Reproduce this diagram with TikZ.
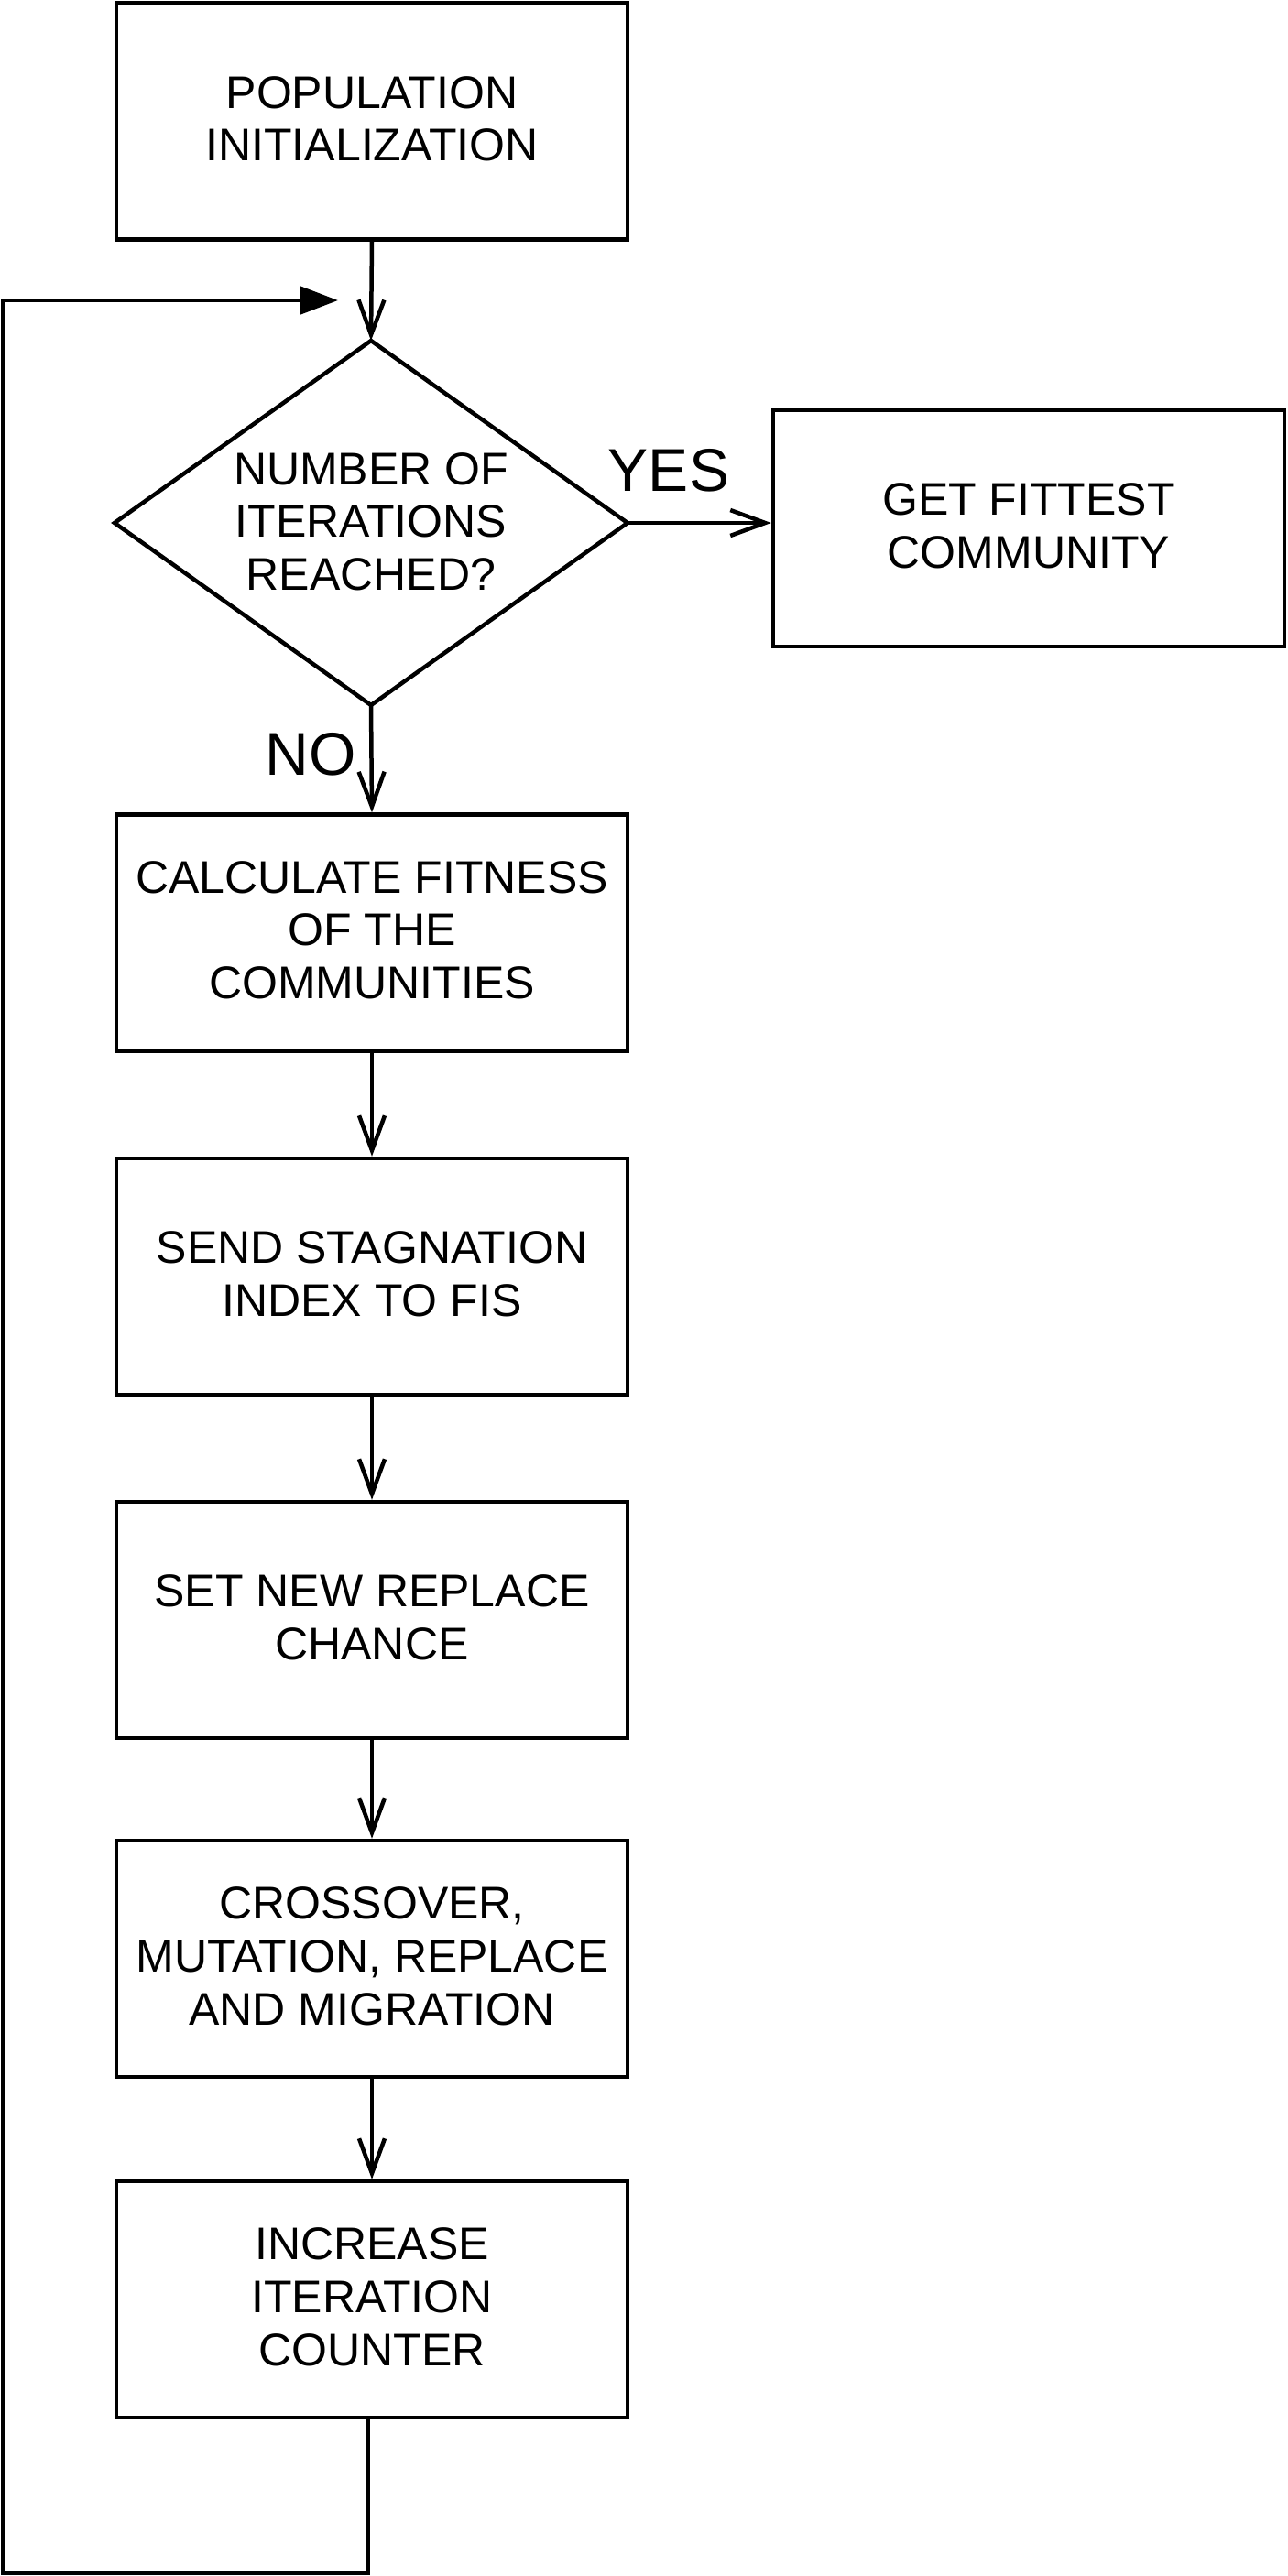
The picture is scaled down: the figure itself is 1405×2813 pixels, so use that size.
\documentclass[tikz,border=0pt]{standalone}
\usepackage{fontspec}
\setmainfont{Liberation Sans}
\usetikzlibrary{arrows.meta}
\begin{document}
\begin{tikzpicture}[x=0.5pt,y=-0.5pt,
  every node/.style={font=\fontsize{25pt}{28.85pt}\selectfont},
  procbox/.style={draw=black,line width=2.25pt,rectangle,inner sep=0pt,
    minimum width=279pt,minimum height=129pt,align=center,text depth=3pt},
  decarea/.style={rectangle,inner sep=0pt,outer sep=0pt,
    minimum width=280pt,minimum height=199pt,align=center,text depth=1.5pt},
  bigtxt/.style={font=\fontsize{33pt}{38pt}\selectfont,inner sep=0pt,anchor=base},
  flow/.style={line width=2.25pt,-{Straight Barb[length=19pt,width=14pt,line width=2.25pt]}},
  back/.style={line width=2.25pt,-{Triangle[length=20.5pt,width=15pt]}}
]
\useasboundingbox (0,0) rectangle (1405,2813);

\node[procbox] (b1) at (406,132.5) {POPULATION\\INITIALIZATION};
\node[decarea] (dia) at (405,571) {NUMBER OF\\ITERATIONS\\REACHED?};
\draw[line width=2.25pt,line join=miter] (dia.north) -- (dia.east) -- (dia.south) -- (dia.west) -- cycle;
\node[procbox] (fit) at (1123,577) {GET FITTEST\\COMMUNITY};
\node[procbox] (b2) at (406,1018.5) {CALCULATE FITNESS\\OF THE\\COMMUNITIES};
\node[procbox] (b3) at (406,1394) {SEND STAGNATION\\INDEX TO FIS};
\node[procbox] (b4) at (406,1769) {SET NEW REPLACE\\CHANCE};
\node[procbox] (b5) at (406,2139) {CROSSOVER,\\MUTATION, REPLACE\\AND MIGRATION};
\node[procbox] (b6) at (406,2511) {INCREASE\\ITERATION\\COUNTER};

\node[bigtxt] (yes) at (730,536.7) {YES};
\node[bigtxt] (no) at (339,846.7) {NO};

\draw[flow] (b1.south) -- (dia.north);
\draw[flow] (dia.east) -- (dia.east -| fit.west);
\draw[flow] (dia.south) -- (b2.north);
\draw[flow] (b2.south) -- (b3.north);
\draw[flow] (b3.south) -- (b4.north);
\draw[flow] (b4.south) -- (b5.north);
\draw[flow] (b5.south) -- (b6.north);

\coordinate (b6out) at ([xshift=-2pt]b6.south);
\coordinate (lb) at (3,2810);
\coordinate (lt) at (369,328);
\draw[back,line join=miter] (b6out) |- (lb) |- (lt);
\end{tikzpicture}
\end{document}
